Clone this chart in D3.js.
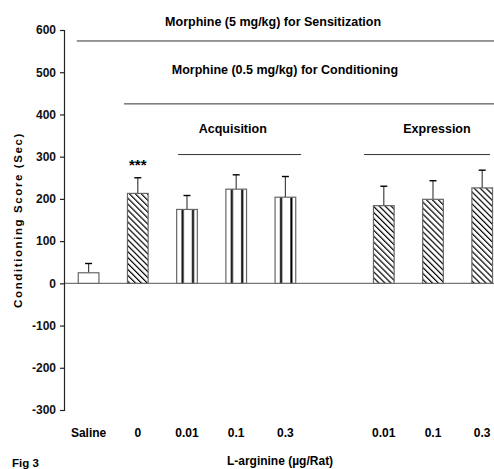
<!DOCTYPE html>
<html>
<head>
<meta charset="utf-8">
<script src="https://cdn.jsdelivr.net/npm/d3@7"></script>
<style>
	body { margin: 0; background: #fff; }
	svg { display: block; font-family: "Liberation Sans Narrow", "Arial Narrow", "Liberation Sans", Arial, sans-serif; font-weight: bold; }
</style>
</head>
<body>
<div id="chart"></div>
<script>
// slots along the x axis (one empty slot between the two groups)
var slots = ["Saline", "0", "0.01 A", "0.1 A", "0.3 A", "", "0.01 E", "0.1 E", "0.3 E"];
var tickLabels = ["Saline", "0", "0.01", "0.1", "0.3", "", "0.01", "0.1", "0.3"];
var barCats = ["Saline", "0", "0.01 A", "0.1 A", "0.3 A", "0.01 E", "0.1 E", "0.3 E"];
var barValues = [25, 213, 175, 223, 204, 184, 199, 226];
var barErrors = [22, 37, 33, 34, 49, 46, 44, 42];
var barFills = ["none", "hatch", "stripe", "stripe", "stripe", "hatch", "hatch", "hatch"];
var yTicks = [600, 500, 400, 300, 200, 100, 0, -100, -200, -300];

// bracket lines and their captions, in (slot, value) units
var bracketText = ["Morphine (5 mg/kg) for Sensitization", "Morphine (0.5 mg/kg) for Conditioning", "Acquisition", "Expression"];
var bracketTextAt = [[4.25, 609], [4.49, 496], [3.43, 356], [7.58, 356]];
var bracketLines = [[0.26, 9, 574], [1.22, 9, 425], [2.32, 4.82, 305], [6.1, 8.66, 305]];

var width = 494, height = 469;
var left = 64, step = 49.2;

var svg = d3.select("#chart").append("svg")
	.attr("width", width)
	.attr("height", height);

var defs = svg.append("defs");
// diagonal hatch
var hatch = defs.append("pattern")
	.attr("id", "hatch")
	.attr("patternUnits", "userSpaceOnUse")
	.attr("width", 4.2)
	.attr("height", 4.2)
	.attr("patternTransform", "rotate(-45)");
hatch.append("rect").attr("width", 4.2).attr("height", 4.2).attr("fill", "#fff");
hatch.append("line")
	.attr("x1", 0).attr("y1", 0).attr("x2", 0).attr("y2", 4.2)
	.attr("stroke", "#000").attr("stroke-width", 2.4);
// wide vertical stripes, two per bar
var stripe = defs.append("pattern")
	.attr("id", "stripe")
	.attr("patternUnits", "objectBoundingBox")
	.attr("patternContentUnits", "objectBoundingBox")
	.attr("width", 0.5)
	.attr("height", 1);
stripe.append("rect").attr("width", 0.5).attr("height", 1).attr("fill", "#fff");
stripe.append("rect").attr("x", 0.24).attr("width", 0.1).attr("height", 1).attr("fill", "#000");

var x = d3.scaleBand()
	.domain(slots)
	.range([left, left + step * slots.length])
	.paddingInner(0.58)
	.paddingOuter(0.29);
var xs = d3.scaleLinear()
	.domain([0, slots.length])
	.range([left, left + step * slots.length]);
var y = d3.scaleLinear()
	.domain([-300, 600])
	.range([410, 30]);

// zero line
svg.append("line")
	.attr("x1", left).attr("x2", width)
	.attr("y1", y(0)).attr("y2", y(0))
	.attr("stroke", "#777").attr("stroke-width", 1.2);

// bars
var bars = svg.selectAll(".bar")
	.data(barCats).enter()
	.append("g")
	.attr("class", "bar");

bars.append("line")
	.attr("x1", function(d) { return x(d) + x.bandwidth() / 2; })
	.attr("x2", function(d) { return x(d) + x.bandwidth() / 2; })
	.attr("y1", function(d, i) { return y(barValues[i]); })
	.attr("y2", function(d, i) { return y(barValues[i] + barErrors[i]); })
	.attr("stroke", "#444").attr("stroke-width", 1.2);
bars.append("line")
	.attr("x1", function(d) { return x(d) + x.bandwidth() / 2 - 3.5; })
	.attr("x2", function(d) { return x(d) + x.bandwidth() / 2 + 3.5; })
	.attr("y1", function(d, i) { return y(barValues[i] + barErrors[i]); })
	.attr("y2", function(d, i) { return y(barValues[i] + barErrors[i]); })
	.attr("stroke", "#000").attr("stroke-width", 1.4);
bars.append("rect")
	.attr("x", function(d) { return x(d); })
	.attr("y", function(d, i) { return y(barValues[i]); })
	.attr("width", x.bandwidth())
	.attr("height", function(d, i) { return y(0) - y(barValues[i]); })
	.attr("fill", function(d, i) { return barFills[i] === "none" ? "#fff" : "url(#" + barFills[i] + ")"; })
	.attr("stroke", "#666").attr("stroke-width", 1.2);

// significance mark
svg.append("text")
	.attr("x", x("0") + x.bandwidth() / 2)
	.attr("y", y(barValues[1] + barErrors[1]) - 8)
	.attr("text-anchor", "middle")
	.style("font-size", "15px")
	.text("***");

// y axis
var yAxis = d3.axisLeft(y)
	.tickValues(yTicks)
	.tickFormat(function(d) { return String(d); })
	.tickSize(4)
	.tickPadding(4);
var yg = svg.append("g")
	.attr("transform", "translate(" + left + ",0)")
	.call(yAxis);
yg.selectAll("path, line").attr("stroke", "#222").attr("stroke-width", 1.2);
yg.selectAll("text")
	.attr("fill", "#111")
	.style("font-size", "12px")
	.style("font-family", "inherit")
	.style("font-weight", "bold");

// x tick labels
svg.selectAll(".xlab")
	.data(slots).enter()
	.append("text")
	.attr("class", "xlab")
	.attr("x", function(d) { return x(d) + x.bandwidth() / 2; })
	.attr("y", 437)
	.attr("text-anchor", "middle")
	.style("font-size", "12px")
	.text(function(d, i) { return tickLabels[i]; });

// bracket lines and captions
svg.selectAll(".bracket")
	.data(bracketLines).enter()
	.append("line")
	.attr("class", "bracket")
	.attr("x1", function(d) { return xs(d[0]); })
	.attr("x2", function(d) { return xs(d[1]); })
	.attr("y1", function(d) { return y(d[2]); })
	.attr("y2", function(d) { return y(d[2]); })
	.attr("stroke", "#333").attr("stroke-width", 1);
svg.selectAll(".caption")
	.data(bracketText).enter()
	.append("text")
	.attr("class", "caption")
	.attr("x", function(d, i) { return xs(bracketTextAt[i][0]); })
	.attr("y", function(d, i) { return y(bracketTextAt[i][1]); })
	.attr("text-anchor", "middle")
	.style("font-size", "12.5px")
	.text(function(d) { return d; });

// axis titles
svg.append("text")
	.attr("transform", "translate(22,220) rotate(-90)")
	.attr("text-anchor", "middle")
	.style("font-family", "'Liberation Sans', Arial, sans-serif")
	.style("font-size", "11.5px")
	.style("letter-spacing", "1.6px")
	.text("Conditioning Score (Sec)");
svg.append("text")
	.attr("x", 280)
	.attr("y", 465)
	.attr("text-anchor", "middle")
	.style("font-size", "12px")
	.text("L-arginine (\u00b5g/Rat)");
svg.append("text")
	.attr("x", 12)
	.attr("y", 467)
	.style("font-size", "11.5px")
	.text("Fig 3");
</script>
</body>
</html>
